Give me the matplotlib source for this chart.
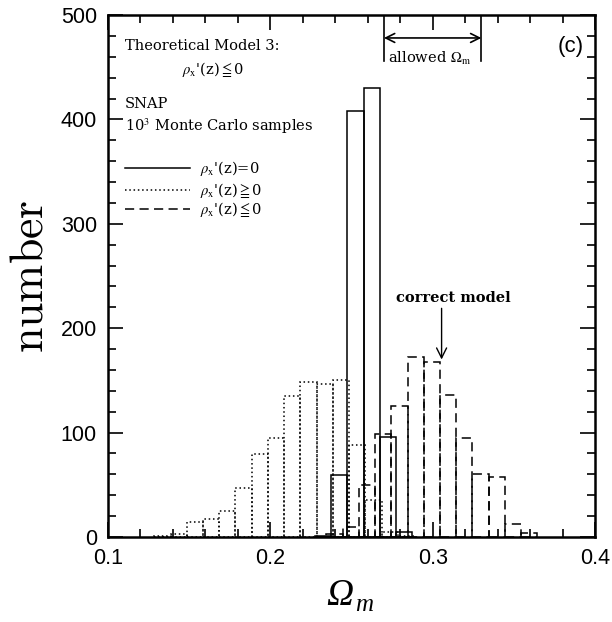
import numpy as np
import matplotlib
matplotlib.use('Agg')
from matplotlib import pyplot as plt

plt.rcParams['mathtext.fontset'] = 'cm'

# histogram counts, bin width 0.01 (left edges start where noted)
bin_w = 0.01
solid_start = 0.2275
solid_counts = [1, 59, 408, 430, 96, 5]
dot_start = 0.1285
dot_counts = [1, 3, 14, 17, 25, 47, 79, 95, 135, 148, 147, 150, 88, 35, 5, 1]
dash_start = 0.2345
dash_counts = [3, 10, 50, 99, 125, 172, 168, 136, 95, 60, 57, 12, 4]

allowed_lo, allowed_hi = 0.27, 0.33
correct_x = 0.3055

x_ticks = [0.1, 0.2, 0.3, 0.4]
y_ticks = [0, 100, 200, 300, 400, 500]

fig = plt.figure(figsize=(6.12, 6.22), dpi=100)
ax = fig.add_axes([0.1765, 0.1367, 0.7957, 0.8392])

lw = 1.1
solid_left = solid_start + bin_w * np.arange(len(solid_counts))
dot_left = dot_start + bin_w * np.arange(len(dot_counts))
dash_left = dash_start + bin_w * np.arange(len(dash_counts))

ax.bar(dot_left, dot_counts, width=bin_w, align='edge', fill=False,
       edgecolor='black', linewidth=lw, linestyle=(0, (1, 1.8)))
ax.bar(dash_left, dash_counts, width=bin_w, align='edge', fill=False,
       edgecolor='black', linewidth=lw, linestyle=(0, (6, 3.5)))
ax.bar(solid_left, solid_counts, width=bin_w, align='edge', fill=False,
       edgecolor='black', linewidth=lw)

ax.set_xlim(0.1, 0.4)
ax.set_ylim(0, 500)
ax.set_xticks(x_ticks)
ax.set_xticklabels(['0.1', '0.2', '0.3', '0.4'])
ax.set_yticks(y_ticks)
ax.set_xticks(np.arange(0.1, 0.4001, 0.02), minor=True)
ax.set_yticks(np.arange(0, 501, 20), minor=True)
ax.tick_params(which='both', direction='in', top=True, right=True, width=1.2,
               labelsize=15.5, pad=8)
ax.tick_params(which='major', length=11)
ax.tick_params(which='minor', length=5.5)
for lab in ax.get_xticklabels() + ax.get_yticklabels():
    lab.set_family('Liberation Sans')
for sp in ax.spines.values():
    sp.set_linewidth(1.8)

ax.set_ylabel(r'$\mathrm{number}$', fontsize=33, labelpad=6)

# x label: italic Omega with subscript m
fig.text(0.555, 0.027, 'Ω', family='Liberation Serif', style='italic',
         fontsize=27, ha='center', va='baseline')
fig.text(0.581, 0.017, 'm', family='Liberation Serif', style='italic',
         fontsize=18, ha='left', va='baseline')

fam = ['DejaVu Serif', 'DejaVu Sans']
tf = dict(family=fam, fontsize=10.5, color='black', math_fontfamily='stix')
rho = r"$\rho_{\rm x}$'(z)"

# top-left model label
ax.text(0.1105, 470, 'Theoretical Model 3:', ha='left', va='center', **tf)
ax.text(0.1455, 448, rho + r"$\leqq$0", ha='left', va='center', **tf)
ax.text(0.385, 470, '(c)', ha='center', va='center', fontsize=16,
        family='Liberation Sans')

# allowed range bracket
ax.plot([allowed_lo, allowed_lo], [456, 500], color='black', lw=1.2)
ax.plot([allowed_hi, allowed_hi], [456, 500], color='black', lw=1.2)
ax.annotate('', xy=(allowed_lo, 478), xytext=(allowed_hi, 478),
            arrowprops=dict(arrowstyle='<->', lw=1.2, color='black',
                            mutation_scale=16, shrinkA=0, shrinkB=0))
ax.text(0.2725, 458, r'allowed $\Omega_{\rm m}$', ha='left', va='center', **tf)

# legend block
ax.text(0.1105, 415, 'SNAP', ha='left', va='center', **tf)
ax.text(0.1105, 393, r'10$^3$ Monte Carlo samples', ha='left', va='center', **tf)
leg_x = [0.1105, 0.1505]
ax.plot(leg_x, [353, 353], color='black', lw=lw)
ax.plot(leg_x, [332, 332], color='black', lw=lw, linestyle=(0, (1, 1.8)))
ax.plot(leg_x, [314, 314], color='black', lw=lw, linestyle=(0, (6, 3.5)))
ax.text(0.1567, 353, rho + "=0", ha='left', va='center', **tf)
ax.text(0.1567, 332, rho + r"$\geqq$0", ha='left', va='center', **tf)
ax.text(0.1567, 314, rho + r"$\leqq$0", ha='left', va='center', **tf)

# correct model arrow
ax.text(0.3125, 229, 'correct model', ha='center', va='center',
        fontweight='bold', **tf)
ax.annotate('', xy=(correct_x, 170), xytext=(correct_x, 219),
            arrowprops=dict(arrowstyle='->', lw=1.0, color='black',
                            mutation_scale=18, shrinkA=0, shrinkB=0))

fig.savefig('out.png', dpi=100)
